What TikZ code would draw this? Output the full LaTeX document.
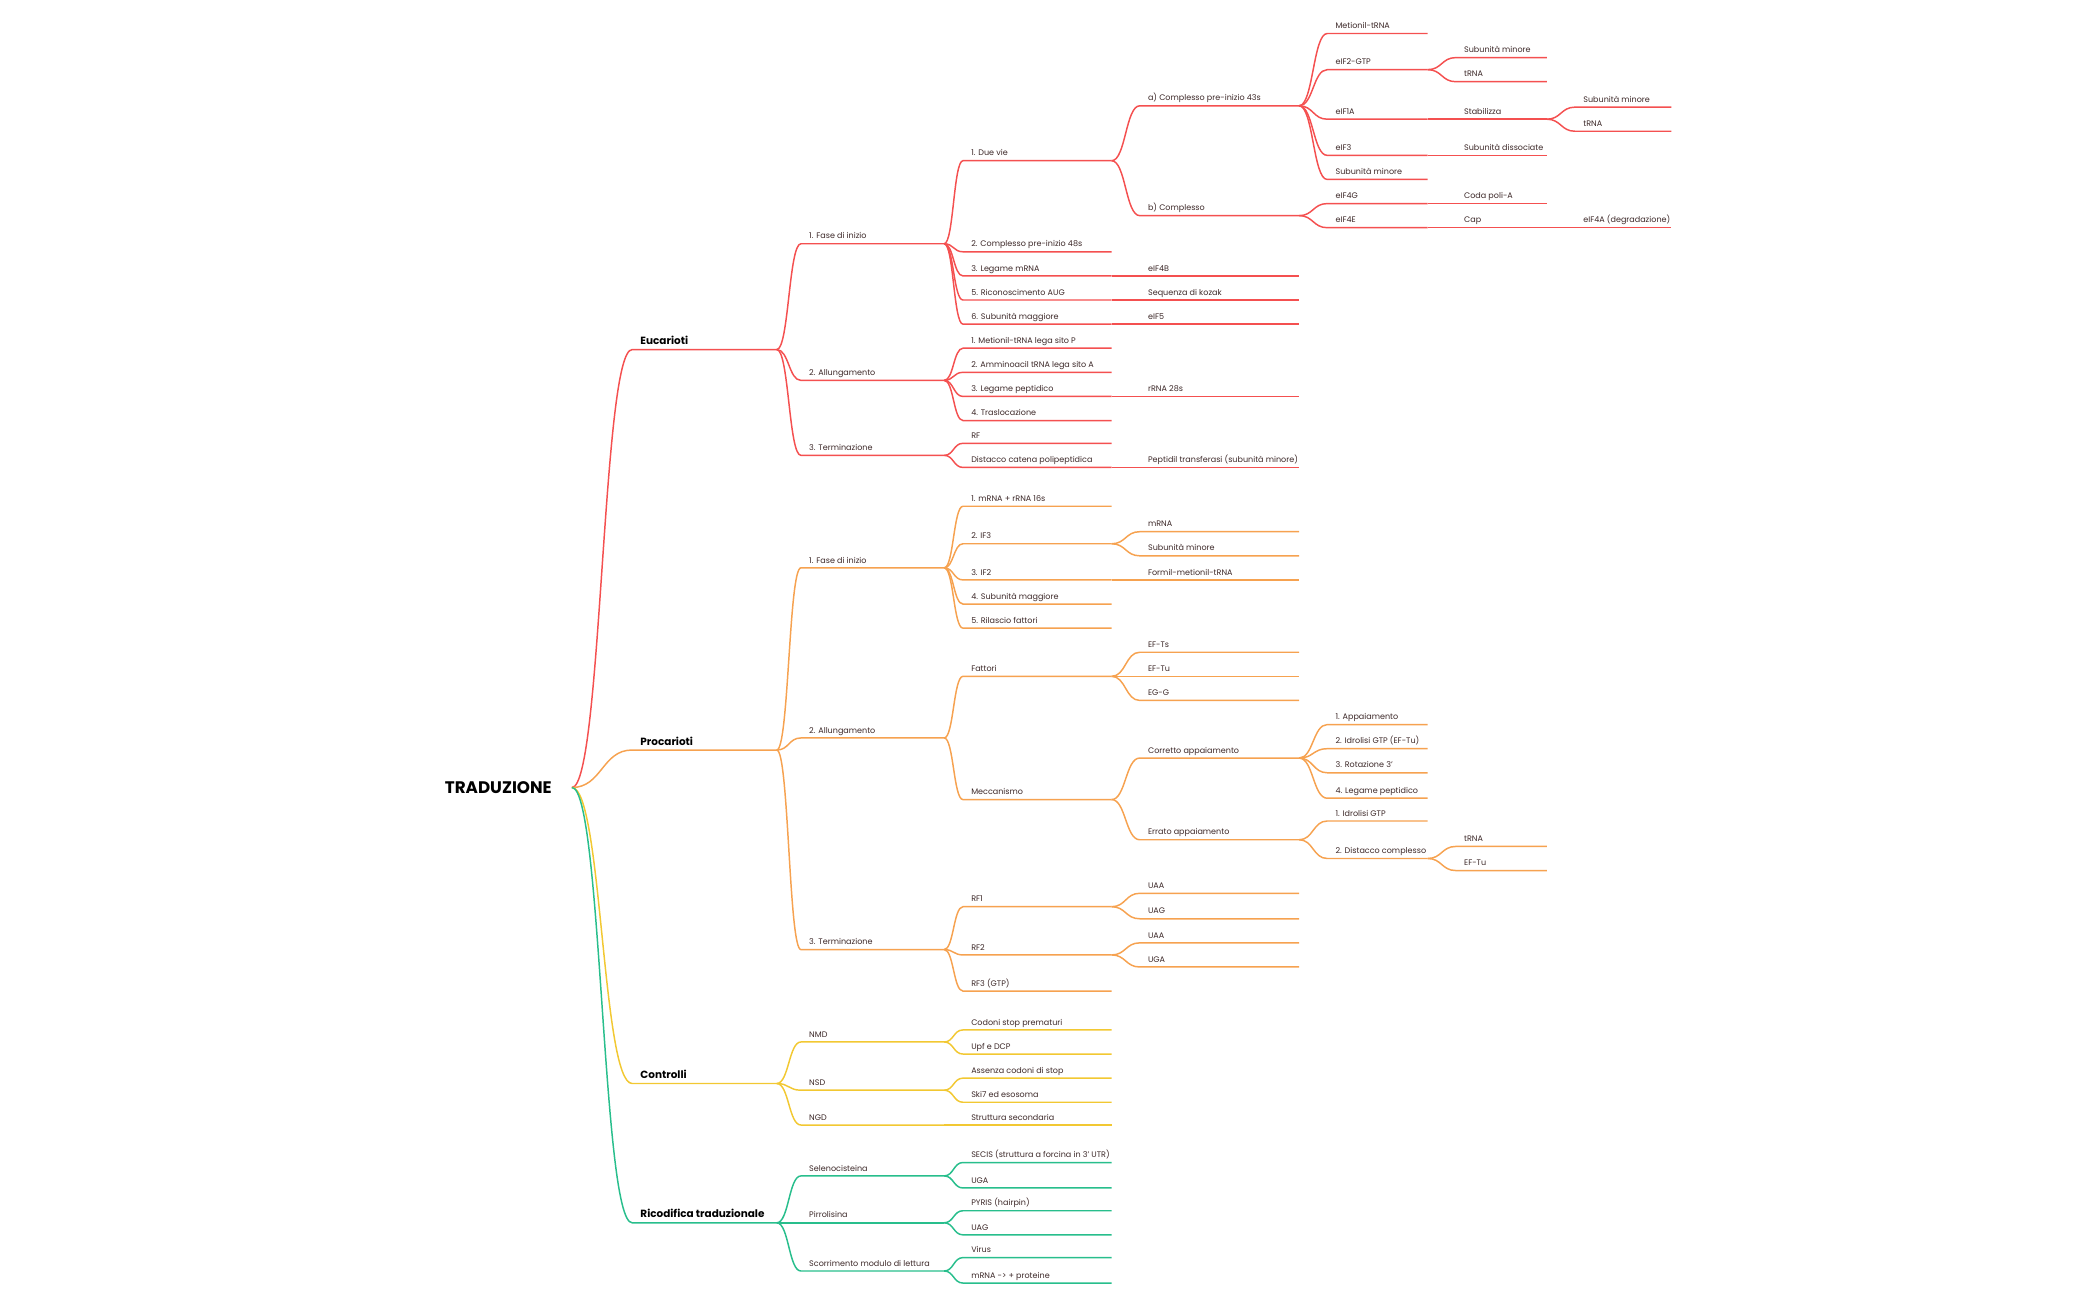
\documentclass[tikz,border=0pt]{standalone}
\usepackage{fontspec}
\setmainfont{Poppins}
\usetikzlibrary{calc}
\definecolor{cred}{RGB}{244,80,80}
\definecolor{corg}{RGB}{246,162,80}
\definecolor{cyel}{RGB}{242,200,50}
\definecolor{cgrn}{RGB}{40,190,140}
\definecolor{ctxt}{RGB}{60,40,40}
\expandafter\def\csname xs1\endcsname{472}\expandafter\def\csname xe1\endcsname{580}
\expandafter\def\csname xs2\endcsname{598}\expandafter\def\csname xe2\endcsname{705}
\expandafter\def\csname xs3\endcsname{719}\expandafter\def\csname xe3\endcsname{830}
\expandafter\def\csname xs4\endcsname{851}\expandafter\def\csname xe4\endcsname{970}
\expandafter\def\csname xs5\endcsname{991}\expandafter\def\csname xe5\endcsname{1066}
\expandafter\def\csname xs6\endcsname{1087}\expandafter\def\csname xe6\endcsname{1155}
\expandafter\def\csname xs7\endcsname{1176}\expandafter\def\csname xe7\endcsname{1248}
\def\cc{cred}
\newcommand\mn[6][lbl]{%
  \coordinate (#2s) at (\csname xs#4\endcsname,-#5);
  \coordinate (#2) at (\csname xe#4\endcsname,-#5);
  \coordinate (#2m) at ($(#3)!0.5!(#2s)$);
  \draw[br] (#3) .. controls (#2m |- #3) and (#2m |- #2s) .. (#2s) -- (#2);
  \node[#1] (#2t) at ($(#2s)+(6,3.6)$) {#6};}
\begin{document}
\begin{tikzpicture}[x=1pt,y=1pt,
  br/.style={draw=\cc,line width=1.1pt},
  lbl/.style={anchor=base west,inner sep=0pt,font=\fontsize{6}{7}\selectfont,text=ctxt},
  lbold/.style={anchor=base west,inner sep=0pt,font=\fontsize{7.8}{9}\selectfont\bfseries,text=black}]
\useasboundingbox (0,0) rectangle (1568,-970);
\node[anchor=west,inner sep=0pt,font=\fontsize{12.5}{14}\selectfont\bfseries] (roott) at (332,-588) {TRADUZIONE};
\coordinate (root) at (427,-588);
% Eucarioti
\def\cc{cred}
\mn[lbold]{E}{root}{1}{261}{Eucarioti}
\mn{E1}{E}{2}{182}{1. Fase di inizio}
\mn{E11}{E1}{3}{120}{1. Due vie}
\mn{Ea}{E11}{4}{79}{a) Complesso pre-inizio 43s}
\mn{Ea1}{Ea}{5}{25}{Metionil-tRNA}
\mn{Ea2}{Ea}{5}{52}{eIF2-GTP}
\mn{Ea21}{Ea2}{6}{43}{Subunità minore}
\mn{Ea22}{Ea2}{6}{61}{tRNA}
\mn{Ea3}{Ea}{5}{89}{eIF1A}
\mn{Ea31}{Ea3}{6}{89}{Stabilizza}
\mn{Ea311}{Ea31}{7}{80}{Subunità minore}
\mn{Ea312}{Ea31}{7}{98}{tRNA}
\mn{Ea4}{Ea}{5}{116}{eIF3}
\mn{Ea41}{Ea4}{6}{116}{Subunità dissociate}
\mn{Ea5}{Ea}{5}{134}{Subunità minore}
\mn{Eb}{E11}{4}{161}{b) Complesso}
\mn{Eb1}{Eb}{5}{152}{eIF4G}
\mn{Eb11}{Eb1}{6}{152}{Coda poli-A}
\mn{Eb2}{Eb}{5}{170}{eIF4E}
\mn{Eb21}{Eb2}{6}{170}{Cap}
\mn{Eb211}{Eb21}{7}{170}{eIF4A (degradazione)}
\mn{E12}{E1}{3}{188}{2. Complesso pre-inizio 48s}
\mn{E13}{E1}{3}{206}{3. Legame mRNA}
\mn{E131}{E13}{4}{206}{eIF4B}
\mn{E14}{E1}{3}{224}{5. Riconoscimento AUG}
\mn{E141}{E14}{4}{224}{Sequenza di kozak}
\mn{E15}{E1}{3}{242}{6. Subunità maggiore}
\mn{E151}{E15}{4}{242}{eIF5}
\mn{E2}{E}{2}{284}{2. Allungamento}
\mn{E21}{E2}{3}{260}{1. Metionil-tRNA lega sito P}
\mn{E22}{E2}{3}{278}{2. Amminoacil tRNA lega sito A}
\mn{E23}{E2}{3}{296}{3. Legame peptidico}
\mn{E231}{E23}{4}{296}{rRNA 28s}
\mn{E24}{E2}{3}{314}{4. Traslocazione}
\mn{E3}{E}{2}{340}{3. Terminazione}
\mn{E31}{E3}{3}{331}{RF}
\mn{E32}{E3}{3}{349}{Distacco catena polipeptidica}
\mn{E321}{E32}{4}{349}{Peptidil transferasi (subunità minore)}
% Procarioti
\def\cc{corg}
\mn[lbold]{P}{root}{1}{560}{Procarioti}
\mn{P1}{P}{2}{424}{1. Fase di inizio}
\mn{P11}{P1}{3}{378}{1. mRNA + rRNA 16s}
\mn{P12}{P1}{3}{406}{2. IF3}
\mn{P121}{P12}{4}{397}{mRNA}
\mn{P122}{P12}{4}{415}{Subunità minore}
\mn{P13}{P1}{3}{433}{3. IF2}
\mn{P131}{P13}{4}{433}{Formil-metionil-tRNA}
\mn{P14}{P1}{3}{451}{4. Subunità maggiore}
\mn{P15}{P1}{3}{469}{5. Rilascio fattori}
\mn{P2}{P}{2}{551}{2. Allungamento}
\mn{P21}{P2}{3}{505}{Fattori}
\mn{P211}{P21}{4}{487}{EF-Ts}
\mn{P212}{P21}{4}{505}{EF-Tu}
\mn{P213}{P21}{4}{523}{EG-G}
\mn{P22}{P2}{3}{597}{Meccanismo}
\mn{P221}{P22}{4}{566}{Corretto appaiamento}
\mn{P2211}{P221}{5}{541}{1. Appaiamento}
\mn{P2212}{P221}{5}{559}{2. Idrolisi GTP (EF-Tu)}
\mn{P2213}{P221}{5}{577}{3. Rotazione 3'}
\mn{P2214}{P221}{5}{596}{4. Legame peptidico}
\mn{P222}{P22}{4}{627}{Errato appaiamento}
\mn{P2221}{P222}{5}{613}{1. Idrolisi GTP}
\mn{P2222}{P222}{5}{641}{2. Distacco complesso}
\mn{P22221}{P2222}{6}{632}{tRNA}
\mn{P22222}{P2222}{6}{650}{EF-Tu}
\mn{P3}{P}{2}{709}{3. Terminazione}
\mn{P31}{P3}{3}{677}{RF1}
\mn{P311}{P31}{4}{667}{UAA}
\mn{P312}{P31}{4}{686}{UAG}
\mn{P32}{P3}{3}{713}{RF2}
\mn{P321}{P32}{4}{704}{UAA}
\mn{P322}{P32}{4}{722}{UGA}
\mn{P33}{P3}{3}{740}{RF3 (GTP)}
% Controlli
\def\cc{cyel}
\mn[lbold]{C}{root}{1}{809}{Controlli}
\mn{C1}{C}{2}{778}{NMD}
\mn{C11}{C1}{3}{769}{Codoni stop prematuri}
\mn{C12}{C1}{3}{787}{Upf e DCP}
\mn{C2}{C}{2}{814}{NSD}
\mn{C21}{C2}{3}{805}{Assenza codoni di stop}
\mn{C22}{C2}{3}{823}{Ski7 ed esosoma}
\mn{C3}{C}{2}{840}{NGD}
\mn{C31}{C3}{3}{840}{Struttura secondaria}
% Ricodifica
\def\cc{cgrn}
\mn[lbold]{R}{root}{1}{913}{Ricodifica traduzionale}
\mn{R1}{R}{2}{878}{Selenocisteina}
\mn{R11}{R1}{3}{868}{SECIS (struttura a forcina in 3' UTR)}
\mn{R12}{R1}{3}{887}{UGA}
\mn{R2}{R}{2}{913}{Pirrolisina}
\mn{R21}{R2}{3}{904}{PYRIS (hairpin)}
\mn{R22}{R2}{3}{922}{UAG}
\mn{R3}{R}{2}{949}{Scorrimento modulo di lettura}
\mn{R31}{R3}{3}{939}{Virus}
\mn{R32}{R3}{3}{958}{mRNA -{}> + proteine}
\end{tikzpicture}
\end{document}
